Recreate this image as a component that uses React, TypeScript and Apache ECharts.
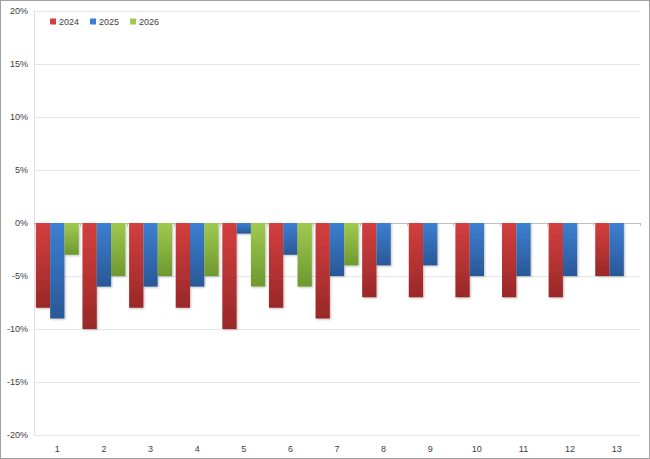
import * as echarts from 'echarts';
import React, { useEffect, useRef } from 'react';

const CATEGORIES = ['1', '2', '3', '4', '5', '6', '7', '8', '9', '10', '11', '12', '13'];
const SERIES_NAMES = ['2024', '2025', '2026'];
const VALUES_2024 = [-8, -10, -8, -8, -10, -8, -9, -7, -7, -7, -7, -7, -5];
const VALUES_2025 = [-9, -6, -6, -6, -1, -3, -5, -4, -4, -5, -5, -5, -5];
const VALUES_2026 = [-3, -5, -5, -5, -6, -6, -4, null, null, null, null, null, null];

const COLORS = [
  ['#d43f3f', '#992828'],
  ['#3c7fd2', '#2a5896'],
  ['#a0ca4e', '#6e9830'],
];

const grad = (top: string, bottom: string) =>
  new echarts.graphic.LinearGradient(0, 0, 0, 1, [
    { offset: 0, color: top },
    { offset: 1, color: bottom },
  ]);

export default function App() {
  const chartRef = useRef<HTMLDivElement>(null);

  useEffect(() => {
    if (!chartRef.current) return;
    const chart = echarts.init(chartRef.current, null, { renderer: 'svg' });
    const data = [VALUES_2024, VALUES_2025, VALUES_2026];

    chart.setOption({
      animation: false,
      textStyle: { fontFamily: 'Liberation Sans, Arial, sans-serif' },
      legend: {
        left: 44,
        top: 11,
        itemWidth: 6,
        itemHeight: 6,
        itemGap: 11,
        icon: 'rect',
        textStyle: { fontSize: 9, color: '#404040', padding: [0, 0, 0, -2] },
        data: SERIES_NAMES.map((n, i) => ({ name: n, itemStyle: { color: COLORS[i][0] } })),
      },
      grid: { left: 33, right: 9, top: 10, bottom: 23 },
      xAxis: [
        {
          type: 'category',
          data: CATEGORIES,
          position: 'bottom',
          axisLine: { show: false, onZero: false },
          axisTick: { show: false },
          axisLabel: { fontSize: 9, color: '#404040', margin: 9 },
        },
        {
          // zero line with category ticks
          type: 'category',
          data: CATEGORIES,
          position: 'bottom',
          axisLine: { show: true, onZero: true, lineStyle: { color: '#bfbfbf' } },
          axisTick: { show: true, length: 3, lineStyle: { color: '#bfbfbf' } },
          axisLabel: { show: false },
          splitLine: { show: false },
        },
      ],
      yAxis: {
        type: 'value',
        min: -20,
        max: 20,
        interval: 5,
        axisLine: { show: true, lineStyle: { color: '#e0e0e0' } },
        axisTick: { show: false },
        axisLabel: { fontSize: 9, color: '#404040', margin: 6, formatter: '{value}%' },
        splitLine: { lineStyle: { color: '#e6e6e6' } },
      },
      series: SERIES_NAMES.map((name, i) => ({
        name,
        type: 'bar',
        xAxisIndex: 0,
        data: data[i],
        barGap: '0%',
        barCategoryGap: '8%',
        itemStyle: {
          color: grad(COLORS[i][0], COLORS[i][1]),
          shadowColor: 'rgba(0,0,0,0.25)',
          shadowBlur: 2,
          shadowOffsetX: 1,
          shadowOffsetY: 1,
        },
      })),
    });

    return () => {
      chart.dispose();
    };
  }, []);

  return (
    <div
      style={{
        position: 'fixed',
        left: 0,
        top: 0,
        width: 650,
        height: 459,
        boxSizing: 'border-box',
        border: '1px solid #a0a0a0',
        background: '#fff',
      }}
    >
      <div ref={chartRef} style={{ width: 648, height: 457 }} />
    </div>
  );
}
